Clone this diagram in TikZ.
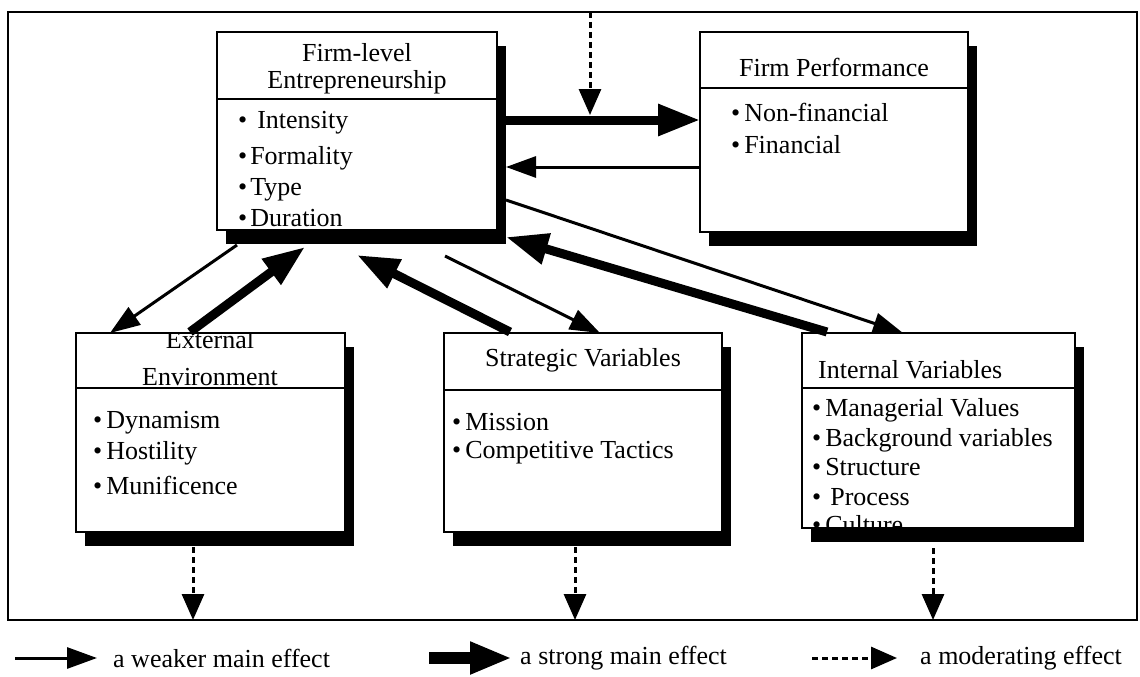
\documentclass[tikz,border=0pt]{standalone}
\usepackage{fontspec}
\setmainfont{Liberation Serif}
\usetikzlibrary{arrows.meta,shadows}

\newcommand{\itm}[2][4pt]{\textbullet\kern#1#2}

\begin{document}
\begin{tikzpicture}[x=1pt,y=-1pt,
  every node/.style={font=\fontsize{26}{30}\selectfont},
  box/.style={draw, line width=2pt, fill=white, anchor=north west, inner sep=0pt, outer sep=0pt,
    general shadow={fill=black, shadow xshift=9pt, shadow yshift=-14pt}},
  txt/.style={inner sep=0pt, anchor=west},
  htxt/.style={inner sep=0pt},
  sep/.style={line width=2pt},
  weak/.style={line width=3pt, -{Triangle[length=30pt,width=21pt]}},
  strong/.style={line width=9pt, -{Triangle[length=42pt,width=30pt]}},
  moder/.style={line width=3pt, dash pattern=on 6pt off 4pt, -{Triangle[length=26pt,width=22pt]}}
]
\fill[white] (0,0) rectangle (1140,677);
\useasboundingbox (0,0) rectangle (1140,677);

% outer frame
\node[draw, line width=2.5pt, minimum width=1129pt, minimum height=608pt, anchor=north west,
  inner sep=0pt, outer sep=0pt] (frame) at (8,12) {};

% boxes
\node[box, minimum width=280pt, minimum height=198pt] (fle) at (217,32) {};
\node[box, minimum width=268pt, minimum height=200pt] (fp)  at (700,32) {};
\node[box, minimum width=269pt, minimum height=199pt] (ext) at (76,333) {};
\node[box, minimum width=278pt, minimum height=199pt] (str) at (444,333) {};
\node[box, minimum width=273pt, minimum height=195pt] (int) at (802,333) {};

% header separators
\draw[sep] (fle.west |- 0,99)  -- (fle.east |- 0,99);
\draw[sep] (fp.west |- 0,88)   -- (fp.east |- 0,88);
\draw[sep] (ext.west |- 0,388) -- (ext.east |- 0,388);
\draw[sep] (str.west |- 0,390) -- (str.east |- 0,390);
\draw[sep] (int.west |- 0,388) -- (int.east |- 0,388);

% Firm-level Entrepreneurship
\node[htxt] (fle-h1) at (357,53) {Firm-level};
\node[htxt] (fle-h2) at (357,82) {Entrepreneurship};
\node[txt] (fle-b1) at (238,123) {\itm[10pt]{Intensity}};
\node[txt] (fle-b2) at (238,158) {\itm[3pt]{Formality}};
\node[txt] (fle-b3) at (238,190) {\itm[3pt]{Type}};
\node[txt] (fle-b4) at (238,218) {\itm[3pt]{Duration}};

% Firm Performance
\node[htxt] (fp-h) at (834,67) {Firm Performance};
\node[txt] (fp-b1) at (731,112) {\itm{Non-financial}};
\node[txt] (fp-b2) at (731,145) {\itm{Financial}};

% External Environment
\begin{scope}
  \clip (ext.north west) rectangle (ext.south east);
  \node[htxt, anchor=base] (ext-h1) at (210,348) {External};
\end{scope}
\node[htxt] (ext-h2) at (210,377) {Environment};
\node[txt] (ext-b1) at (93,423) {\itm{Dynamism}};
\node[txt] (ext-b2) at (93,453) {\itm{Hostility}};
\node[txt] (ext-b3) at (93,485) {\itm{Munificence}};

% Strategic Variables
\node[htxt] (str-h) at (583,360) {Strategic Variables};
\node[txt] (str-b1) at (452,422) {\itm{Mission}};
\node[txt] (str-b2) at (452,453) {\itm{Competitive Tactics}};

% Internal Variables
\node[txt] (int-h) at (818,370) {Internal Variables};
\node[txt] (int-b1) at (812,410) {\itm{Managerial Values}};
\node[txt] (int-b2) at (812,440) {\itm{Background variables}};
\node[txt] (int-b3) at (812,467) {\itm{Structure}};
\node[txt] (int-b4) at (812,497) {\itm[9pt]{Process}};
\begin{scope}
  \clip (int.north west) rectangle (int.south east);
  \node[txt, anchor=base west] (int-b5) at (812,533) {\itm{Culture}};
\end{scope}

% connectors between the boxes
\draw[strong] ([shift={(9,88)}]fle.north east) -- ([shift={(0,88)}]fp.north west);
\draw[weak]   ([shift={(0,135)}]fp.north west) -- ([shift={(9,135)}]fle.north east);
\coordinate (modtip) at ([shift={(93,83)}]fle.north east);
\draw[moder]  ([shift={(582,0)}]frame.north west) -- (modtip);

\draw[weak]   ([shift={(9,168)}]fle.north east) -- ([shift={(101,0)}]int.north west);
\draw[strong] ([shift={(25,-1)}]int.north west) -- ([shift={(9,7)}]fle.south east);

\draw[weak]   ([shift={(-52,26)}]fle.south east) -- ([shift={(156,0)}]str.north west);
\draw[strong] ([shift={(66,-1)}]str.north west) -- ([shift={(0,25)}]fle.south);

\draw[weak]   ([shift={(20,15)}]fle.south west) -- ([shift={(34,0)}]ext.north west);
\draw[strong] ([shift={(114,-1)}]ext.north west) -- ([shift={(88,17)}]fle.south west);

% moderating effects onto the frame
\coordinate (extm) at ([shift={(117,15)}]ext.south west);
\coordinate (strm) at ([shift={(131,15)}]str.south west);
\coordinate (intm) at ([shift={(131,20)}]int.south west);
\draw[moder] (extm) -- (extm |- frame.south);
\draw[moder] (strm) -- (strm |- frame.south);
\draw[moder] (intm) -- (intm |- frame.south);

% legend
\coordinate (lw0) at (15,658);  \coordinate (lw1) at (97,658);
\coordinate (ls0) at (429,658); \coordinate (ls1) at (512,658);
\coordinate (lm0) at (812,658); \coordinate (lm1) at (897,658);
\draw[weak]   (lw0) -- (lw1);
\draw[strong, line width=12pt] (ls0) -- (ls1);
\draw[moder]  (lm0) -- (lm1);
\node[txt] (lw-t) at (113,658) {a weaker main effect};
\node[txt] (ls-t) at (520,658) {a strong main effect};
\node[txt] (lm-t) at (920,658) {a moderating effect};
\end{tikzpicture}
\end{document}
